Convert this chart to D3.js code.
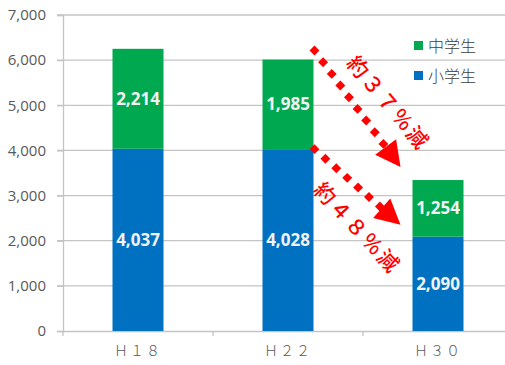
<!DOCTYPE html>
<html>
<head>
<meta charset="utf-8">
<script src="https://cdn.jsdelivr.net/npm/d3@7"></script>
<style>
  body { margin: 0; background: #fff; }
  svg { display: block; }
</style>
</head>
<body>
<svg id="chart" width="505" height="365"></svg>
<script>
const years = ["Ｈ１８", "Ｈ２２", "Ｈ３０"];
const elementary = [4037, 4028, 2090];   // 小学生
const juniorHigh = [2214, 1985, 1254];   // 中学生
const seriesNames = ["小学生", "中学生"];
const yTicks = [0, 1000, 2000, 3000, 4000, 5000, 6000, 7000];
const notes = ["約３７％減", "約４８％減"];

const colors = { "小学生": "#0070c0", "中学生": "#00a84f" };

let svg = d3.select('#chart');
let plotLeft = 63, plotRight = 513, plotTop = 15, plotBottom = 331;

let x = d3.scaleBand().domain(years).range([plotLeft, plotRight]).paddingInner(0.66).paddingOuter(0.33);
let y = d3.scaleLinear().domain([0, 7000]).range([plotBottom, plotTop]);

// grid
svg.append('g').selectAll('line').data(yTicks.slice(1)).enter().append('line')
  .attr('x1', plotLeft - 6).attr('x2', 505)
  .attr('y1', d => y(d)).attr('y2', d => y(d))
  .attr('stroke', '#c4c4c4').attr('stroke-width', 1.3);

// y axis
let yAxis = svg.append('g').attr('transform', `translate(${plotLeft},0)`)
  .call(d3.axisLeft(y).tickValues(yTicks).tickFormat(d3.format(',')).tickSize(6).tickPadding(11));
yAxis.select('.domain').attr('stroke', '#c4c4c4').attr('stroke-width', 1.3);
yAxis.selectAll('.tick line').attr('stroke', '#c4c4c4').attr('stroke-width', 1.3);
yAxis.selectAll('text').attr('fill', '#595959').attr('font-size', 15).attr('font-family', 'Open Sans, sans-serif');

// x axis
let xAxis = svg.append('g').attr('transform', `translate(0,${plotBottom})`)
  .call(d3.axisBottom(x).tickSize(0).tickPadding(15));
xAxis.select('.domain').attr('stroke', '#c4c4c4').attr('stroke-width', 1.3);
xAxis.selectAll('text').attr('fill', '#595959').attr('font-size', 14)
  .attr('font-family', 'Noto Sans CJK JP, sans-serif').attr('font-weight', 300).attr('letter-spacing', 2);
// boundary ticks between categories
svg.append('g').selectAll('line').data(d3.range(years.length + 1)).enter().append('line')
  .attr('x1', i => plotLeft + i * (plotRight - plotLeft) / years.length)
  .attr('x2', i => plotLeft + i * (plotRight - plotLeft) / years.length)
  .attr('y1', plotBottom).attr('y2', plotBottom + 5)
  .attr('stroke', '#c4c4c4').attr('stroke-width', 1.3);

// stacked bars
let rows = years.map((yr, i) => ({ year: yr, "小学生": elementary[i], "中学生": juniorHigh[i] }));
let stack = d3.stack().keys(seriesNames)(rows);

let layers = svg.selectAll('g.layer').data(stack).enter().append('g').attr('class', 'layer')
  .attr('fill', d => colors[d.key]);
layers.selectAll('rect').data(d => d).enter().append('rect')
  .attr('x', d => x(d.data.year))
  .attr('width', x.bandwidth())
  .attr('y', d => y(d[1]))
  .attr('height', d => y(d[0]) - y(d[1]));
layers.selectAll('text').data(d => d).enter().append('text')
  .text(d => d3.format(',')(d[1] - d[0]))
  .attr('x', d => x(d.data.year) + x.bandwidth() / 2)
  .attr('y', d => (y(d[0]) + y(d[1])) / 2)
  .attr('dy', '0.36em')
  .attr('text-anchor', 'middle')
  .attr('fill', '#f2f2f2')
  .attr('font-weight', 'bold')
  .attr('font-size', 17)
  .attr('font-family', 'Open Sans, sans-serif');

// legend
let legend = svg.append('g').selectAll('g').data(seriesNames.slice().reverse()).enter().append('g')
  .attr('transform', (d, i) => `translate(414,${46 + i * 30})`);
legend.append('rect').attr('x', 0).attr('y', -5).attr('width', 9).attr('height', 9)
  .attr('fill', d => colors[d]);
legend.append('text').text(d => d).attr('x', 14).attr('y', 0).attr('dy', '0.36em')
  .attr('fill', '#404040').attr('font-size', 16).attr('font-weight', 300)
  .attr('font-family', 'Noto Sans CJK JP, sans-serif');

// decrease arrows from H22 to H30
function arrow(x0, y0, x1, y1) {
  let g = svg.append('g');
  let len = Math.hypot(x1 - x0, y1 - y0);
  let ang = Math.atan2(y1 - y0, x1 - x0);
  let headLen = 25;
  let n = Math.floor((len - headLen) / 14.5) + 1;
  g.selectAll('rect').data(d3.range(n)).enter().append('rect')
    .attr('x', -3.5).attr('y', -3.5).attr('width', 7).attr('height', 7)
    .attr('fill', '#ff0000')
    .attr('transform', i => {
      let t = i * 14.5;
      return `translate(${x0 + t * Math.cos(ang)},${y0 + t * Math.sin(ang)}) rotate(45)`;
    });
  g.append('path')
    .attr('d', `M0,0 L${-headLen},-13 L${-headLen},13 Z`)
    .attr('fill', '#ff0000')
    .attr('transform', `translate(${x1},${y1}) rotate(${ang * 180 / Math.PI})`);
}
let xStart = x(years[1]) + x.bandwidth() + 1;
let xEnd = x(years[2]) - 12;
arrow(xStart, y(elementary[1] + juniorHigh[1]) - 9, xEnd, y(elementary[2] + juniorHigh[2]) - 13);
arrow(xStart, y(elementary[1]), xEnd, y(elementary[2]) - 12);

let noteLabels = [
  { text: notes[0], cx: 388, cy: 103, rot: 50 },
  { text: notes[1], cx: 357, cy: 228, rot: 47 }
];
svg.append('g').selectAll('text').data(noteLabels).enter().append('text')
  .text(d => d.text)
  .attr('transform', d => `translate(${d.cx},${d.cy}) rotate(${d.rot})`)
  .attr('text-anchor', 'middle').attr('dy', '0.35em')
  .attr('fill', '#ff0000').attr('font-size', 21).attr('font-weight', 500)
  .attr('letter-spacing', 2)
  .attr('font-family', 'Noto Sans CJK JP, sans-serif');
</script>
</body>
</html>
